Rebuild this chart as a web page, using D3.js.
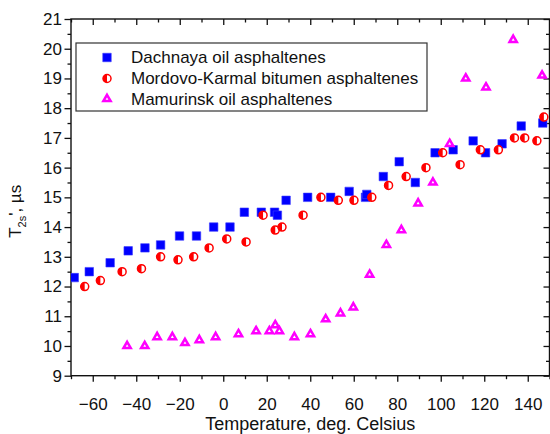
<!DOCTYPE html>
<html>
<head>
<meta charset="utf-8">
<script src="https://cdn.jsdelivr.net/npm/d3@7"></script>
<style>
  body { margin: 0; background: #fff; }
  svg { display: block; font-family: Arial, "Liberation Sans", sans-serif; }
</style>
</head>
<body>
<svg id="chart" width="550" height="434"></svg>
<script>
// axis ticks
const xTicks = [-60, -40, -20, 0, 20, 40, 60, 80, 100, 120, 140];
const xMinorTicks = [-70, -50, -30, -10, 10, 30, 50, 70, 90, 110, 130, 150];
const yTicks = [9, 10, 11, 12, 13, 14, 15, 16, 17, 18, 19, 20, 21];
const yMinorTicks = [9.5, 10.5, 11.5, 12.5, 13.5, 14.5, 15.5, 16.5, 17.5, 18.5, 19.5, 20.5];

const seriesNames = ['Dachnaya oil asphaltenes', 'Mordovo-Karmal bitumen asphaltenes', 'Mamurinsk oil asphaltenes'];

// Dachnaya oil asphaltenes
const dachnayaTemp = [-68.5, -61.6, -52, -43.7, -36, -28.8, -20.1, -12.3, -4.4, 3.1, 9.7, 17.5, 23.6, 24.9, 28.9,
  38.8, 49.4, 57.9, 65.4, 66, 73.6, 80.9, 88.3, 97.4, 105.7, 114.9, 120.6, 128.2, 137, 146.9];
const dachnayaT2 = [12.3, 12.5, 12.8, 13.2, 13.3, 13.4, 13.7, 13.7, 14.0, 14.0, 14.5, 14.5, 14.5, 14.4, 14.9,
  15.0, 15.0, 15.2, 15.0, 15.1, 15.7, 16.2, 15.5, 16.5, 16.6, 16.9, 16.5, 16.8, 17.4, 17.5];

// Mordovo-Karmal bitumen asphaltenes
const mordovoTemp = [-63.7, -56.5, -46.5, -37.6, -28.8, -20.8, -13.6, -6.5, 1.6, 10.5, 18.3, 23.9, 27, 36.7, 44.9,
  52.9, 60.1, 68.3, 76, 84.1, 93.2, 100.9, 108.9, 118.2, 126.5, 133.9, 138.6, 144.2, 147.4];
const mordovoT2 = [12.0, 12.2, 12.5, 12.6, 13.0, 12.9, 13.0, 13.3, 13.6, 13.5, 14.4, 13.9, 14.0, 14.4, 15.0,
  14.9, 14.9, 15.0, 15.4, 15.7, 16.0, 16.5, 16.1, 16.6, 16.6, 17.0, 17.0, 16.9, 17.7];

// Mamurinsk oil asphaltenes
const mamurinskTemp = [-44.2, -36.1, -30.4, -23.4, -17.6, -11, -3.5, 7, 15.1, 21.2, 23.9, 25.8, 32.7, 40.1, 47.1,
  53.9, 59.8, 67.3, 75, 81.9, 89.6, 96.4, 104.1, 111.5, 120.8, 133.3, 146.6];
const mamurinskT2 = [10.0, 10.0, 10.3, 10.3, 10.1, 10.2, 10.3, 10.4, 10.5, 10.5, 10.7, 10.5, 10.3, 10.4, 10.9,
  11.1, 11.3, 12.4, 13.4, 13.9, 14.8, 15.5, 16.8, 19.0, 18.7, 20.3, 19.1];

const svg = d3.select('#chart');

const x = d3.scaleLinear().domain([-70, 150]).range([71, 549.5]);
const y = d3.scaleLinear().domain([9, 21]).range([375.7, 19]);

const plotLeft = x.range()[0], plotRight = x.range()[1],
  plotTop = y.range()[1], plotBottom = y.range()[0];

function styleAxis(g, fontSize) {
  g.select('.domain').remove();
  g.selectAll('line').attr('stroke', '#111').attr('stroke-width', 1.3);
  g.selectAll('text').attr('fill', '#111').style('font-size', fontSize + 'px').style('font-family', 'Arial, "Liberation Sans", sans-serif');
}

// bottom axis, ticks outward
svg.append('g').attr('transform', `translate(0,${plotBottom})`)
  .call(d3.axisBottom(x).tickValues(xMinorTicks).tickSize(3.5).tickFormat(''))
  .call(g => styleAxis(g, 17));
svg.append('g').attr('transform', `translate(0,${plotBottom})`)
  .call(d3.axisBottom(x).tickValues(xTicks).tickSize(6).tickPadding(16))
  .call(g => styleAxis(g, 17));

// top axis, mirrored ticks inward
svg.append('g').attr('transform', `translate(0,${plotTop})`)
  .call(d3.axisTop(x).tickValues(xMinorTicks).tickSize(-3.5).tickFormat(''))
  .call(g => styleAxis(g, 17));
svg.append('g').attr('transform', `translate(0,${plotTop})`)
  .call(d3.axisTop(x).tickValues(xTicks).tickSize(-6).tickFormat(''))
  .call(g => styleAxis(g, 17));

// left axis
svg.append('g').attr('transform', `translate(${plotLeft},0)`)
  .call(d3.axisLeft(y).tickValues(yMinorTicks).tickSize(3.5).tickFormat(''))
  .call(g => styleAxis(g, 17));
svg.append('g').attr('transform', `translate(${plotLeft},0)`)
  .call(d3.axisLeft(y).tickValues(yTicks).tickSize(6.5).tickPadding(2.5))
  .call(g => styleAxis(g, 17));

// right axis, inward
svg.append('g').attr('transform', `translate(${plotRight},0)`)
  .call(d3.axisRight(y).tickValues(yMinorTicks).tickSize(-3.5).tickFormat(''))
  .call(g => styleAxis(g, 17));
svg.append('g').attr('transform', `translate(${plotRight},0)`)
  .call(d3.axisRight(y).tickValues(yTicks).tickSize(-6).tickFormat(''))
  .call(g => styleAxis(g, 17));

// frame
svg.append('rect')
  .attr('x', plotLeft).attr('y', plotTop)
  .attr('width', plotRight - plotLeft).attr('height', plotBottom - plotTop)
  .attr('fill', 'none').attr('stroke', '#111').attr('stroke-width', 1.4);

// axis titles
svg.append('text')
  .attr('x', (plotLeft + plotRight) / 2).attr('y', 429.5)
  .attr('text-anchor', 'middle')
  .style('font-size', '18px').attr('fill', '#111')
  .text('Temperature, deg. Celsius');

let yTitle = svg.append('text')
  .attr('transform', `translate(21,${(plotTop + plotBottom) / 2 + 14}) rotate(-90)`)
  .attr('text-anchor', 'middle')
  .style('font-size', '17px').attr('fill', '#111');
yTitle.append('tspan').text('T');
yTitle.append('tspan').attr('dy', 5).style('font-size', '11px').text('2s');
yTitle.append('tspan').attr('dy', -5).text('\', \u00b5s');

// marker painters
const squareSym = d3.symbol().type(d3.symbolSquare).size(72);
const triangleSym = d3.symbol().type(d3.symbolTriangle).size(23);
const circleR = 4;

function drawSquare(g) {
  g.append('path').attr('d', squareSym()).attr('fill', '#0000ff').attr('stroke', '#3b3bff').attr('stroke-width', 0.6);
}
function drawHalfCircle(g) {
  g.append('circle').attr('r', circleR).attr('fill', '#fff').attr('stroke', '#ff0000').attr('stroke-width', 1.5);
  g.append('path').attr('d', `M0,${-circleR} A${circleR},${circleR} 0 0 0 0,${circleR} Z`).attr('fill', '#ff0000');
}
function drawTriangle(g) {
  g.append('path').attr('d', triangleSym()).attr('fill', '#fff').attr('stroke', '#ff00ff')
    .attr('stroke-width', 2.5).attr('stroke-linejoin', 'miter');
}

const series = [
  { temp: dachnayaTemp, t2: dachnayaT2, draw: drawSquare },
  { temp: mordovoTemp, t2: mordovoT2, draw: drawHalfCircle },
  { temp: mamurinskTemp, t2: mamurinskT2, draw: drawTriangle }
];

svg.append('clipPath').attr('id', 'plot-clip')
  .append('rect').attr('x', plotLeft).attr('y', plotTop).attr('width', plotRight - plotLeft).attr('height', plotBottom - plotTop);

let plot = svg.append('g').attr('clip-path', 'url(#plot-clip)');

series.forEach(s => {
  plot.append('g')
    .selectAll('g')
    .data(s.temp.map((t, i) => ({ t: t, v: s.t2[i] })))
    .enter().append('g')
    .attr('transform', d => `translate(${x(d.t)},${y(d.v)})`)
    .each(function () { s.draw(d3.select(this)); });
});

// legend
let legend = svg.append('g');
legend.append('rect')
  .attr('x', 76).attr('y', 43).attr('width', 351).attr('height', 68)
  .attr('fill', '#fff').attr('stroke', '#333').attr('stroke-width', 1.2);

const legendRows = [57.5, 78.5, 99];
series.forEach((s, i) => {
  let row = legend.append('g').attr('transform', `translate(107,${legendRows[i]})`);
  s.draw(row);
  legend.append('text')
    .attr('x', 131).attr('y', legendRows[i]).attr('dy', '0.35em')
    .style('font-size', '17px').attr('fill', '#111')
    .text(seriesNames[i]);
});
</script>
</body>
</html>
